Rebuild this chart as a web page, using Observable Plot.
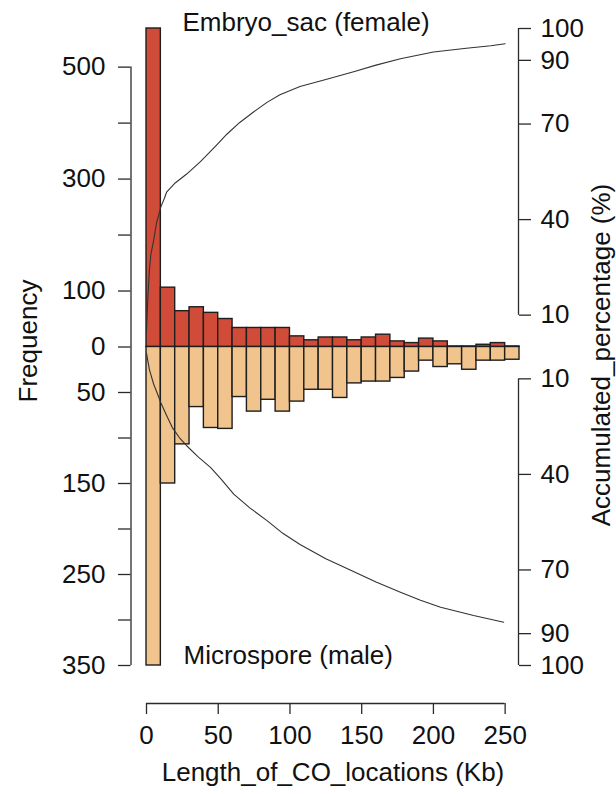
<!DOCTYPE html>
<html><head><meta charset="utf-8">
<script src="https://cdn.jsdelivr.net/npm/d3@7"></script>
<script src="https://cdn.jsdelivr.net/npm/@observablehq/plot@0.6"></script>
<style>body{margin:0;background:#fff;}</style>
</head><body><div id="chart"></div>
<script>
// Bins (Kb), 10 Kb wide
const binStart = [0,10,20,30,40,50,60,70,80,90,100,110,120,130,140,150,160,170,180,190,200,210,220,230,240,250];
const binWidth = 10;
// Frequencies
const female = [569,106,64,71,61,50,34,34,34,34,19,12,17,17,12,17,22,10,7,15,10,1,1,4,7,1];
const male   = [350,150,107,66,89,90,55,71,58,71,60,47,47,56,40,38,38,34,27,15,22,19,25,15,15,14];
// Accumulated percentage curves
const femaleCumKb  = [0,1,2,3,5,7,10,12.5,14,20,28,37.6,44.6,49,56,65,74.6,84,93,107,125,145,160,177,200,223,240,250];
const femaleCumPct = [5,16,24,29,33.5,39,44,46.7,48.6,51.5,54.3,58.2,61.4,63.5,66.8,70.5,73.8,76.8,79.2,81.8,84,86.5,88.5,90.5,92.6,93.8,94.6,95.2];
const maleCumKb  = [0,1,2,5,7.5,10,14,18,23,28,36,44.6,52,60.8,72,84,95,107,125,142,160,177,191,205,228,249];
const maleCumPct = [2,4.5,7,11.7,14.5,17.5,21.5,25.3,28.5,31,34.5,37.8,41.5,46.2,50.5,54.5,58.5,62,66.5,70,73.8,77,79.5,81.7,84.3,86.4];
// Ticks
const xTicks = [0,50,100,150,200,250];
const leftTicksTop = [0,100,200,300,400,500];
const leftLabelsTop = [0,100,300,500];
const leftTicksBottom = [50,100,150,200,250,300,350];
const leftLabelsBottom = [50,150,250,350];
const pctTicks = [10,40,70,90,100];
const topLabel = "Embryo_sac (female)";
const bottomLabel = "Microspore (male)";
const xTitle = "Length_of_CO_locations (Kb)";
const yTitle = "Frequency";
const y2Title = "Accumulated_percentage (%)";

// Upper panel (female) and lower panel (male) have their own frequency ranges;
// both are normalised into one y scale: upper half 0..1, lower half 0..-1.
const topMax = d3.max(female);
const botMax = d3.max(male);
const xMax = binStart[binStart.length - 1] + binWidth;
const fTop = v => v / topMax;
const fBot = v => -v / botMax;
const pTop = p => p / 100;
const pBot = p => -p / 100;

const femaleRows = binStart.map((s, i) => ({x1: s, x2: s + binWidth, v: fTop(female[i])}));
const maleRows = binStart.map((s, i) => ({x1: s, x2: s + binWidth, v: fBot(male[i])}));
const femaleCum = femaleCumKb.map((k, i) => ({x: k, y: pTop(femaleCumPct[i])}));
const maleCum = maleCumKb.map((k, i) => ({x: k, y: pBot(maleCumPct[i])}));

const leftLabelMap = new Map();
leftTicksTop.forEach(t => leftLabelMap.set(fTop(t), leftLabelsTop.includes(t) ? String(t) : ""));
leftTicksBottom.forEach(t => leftLabelMap.set(fBot(t), leftLabelsBottom.includes(t) ? String(t) : ""));
const leftTicks = [...leftLabelMap.keys()];
const rightLabelMap = new Map();
pctTicks.forEach(p => { rightLabelMap.set(pTop(p), String(p)); rightLabelMap.set(pBot(p), String(p)); });
const rightTicks = [...rightLabelMap.keys()];

const axisColor = "#2a2a2a";
const ink = "#111";
const red = "#D14C38";
const tan = "#F0C48C";
const barStroke = "#1e1e1e";

const chart = Plot.plot({
  width: 616,
  height: 794,
  marginTop: 28,
  marginBottom: 129,
  marginLeft: 146,
  marginRight: 97,
  style: {fontFamily: "'Liberation Sans', Arial, sans-serif", fontSize: "26px", background: "#fff", color: ink},
  x: {domain: [0, xMax]},
  y: {domain: [-1, 1]},
  marks: [
    Plot.rectY(femaleRows, {x1: "x1", x2: "x2", y1: 0, y2: "v", fill: red, stroke: barStroke, strokeWidth: 1.4}),
    Plot.rectY(maleRows, {x1: "x1", x2: "x2", y1: 0, y2: "v", fill: tan, stroke: barStroke, strokeWidth: 1.4}),
    Plot.line(femaleCum, {x: "x", y: "y", stroke: "#333", strokeWidth: 1.1}),
    Plot.line(maleCum, {x: "x", y: "y", stroke: "#333", strokeWidth: 1.1}),
    // left axis
    Plot.ruleX([0], {y1: fBot(d3.max(leftTicksBottom)), y2: fTop(d3.max(leftTicksTop)), dx: -15.5, stroke: axisColor, strokeWidth: 1.3}),
    Plot.axisY({anchor: "left", ticks: leftTicks, tickFormat: v => leftLabelMap.get(v) ?? "",
      tickSize: 12.5, tickPadding: 13, dx: -15.5, stroke: axisColor, strokeWidth: 1.3, fill: ink, label: null}),
    // right axis (two segments)
    Plot.ruleX([xMax], {y1: pTop(d3.min(pctTicks)), y2: pTop(d3.max(pctTicks)), dx: -1, stroke: axisColor, strokeWidth: 1.3}),
    Plot.ruleX([xMax], {y1: pBot(d3.min(pctTicks)), y2: pBot(d3.max(pctTicks)), dx: -1, stroke: axisColor, strokeWidth: 1.3}),
    Plot.axisY({anchor: "right", ticks: rightTicks, tickFormat: v => rightLabelMap.get(v) ?? "",
      tickSize: 12, tickPadding: 10, dx: -1, stroke: axisColor, strokeWidth: 1.3, fill: ink, label: null}),
    // bottom axis
    Plot.ruleY([-1], {x1: d3.min(xTicks), x2: d3.max(xTicks), dy: 38, stroke: axisColor, strokeWidth: 1.3}),
    Plot.axisX({anchor: "bottom", ticks: xTicks, tickSize: 11, tickPadding: 11, dy: 38, stroke: axisColor, strokeWidth: 1.3, fill: ink, label: null}),
    // titles
    Plot.text([xTitle], {text: d => d, frameAnchor: "bottom", dy: 96.7, lineAnchor: "top", textAnchor: "middle", fill: ink}),
    Plot.text([yTitle], {text: d => d, frameAnchor: "left", rotate: -90, dx: -118, dy: -6, lineAnchor: "middle", textAnchor: "middle", fill: ink}),
    Plot.text([y2Title], {text: d => d, frameAnchor: "right", rotate: -90, dx: 82, dy: 8, lineAnchor: "middle", textAnchor: "middle", fill: ink}),
    Plot.text([topLabel], {text: d => d, frameAnchor: "top-left", dx: 36, dy: -16.3, lineAnchor: "top", textAnchor: "start", fill: ink}),
    Plot.text([bottomLabel], {text: d => d, frameAnchor: "bottom-left", dx: 37, dy: -20, lineAnchor: "top", textAnchor: "start", fill: ink})
  ]
});
document.getElementById("chart").appendChild(chart);
</script>
</body></html>
